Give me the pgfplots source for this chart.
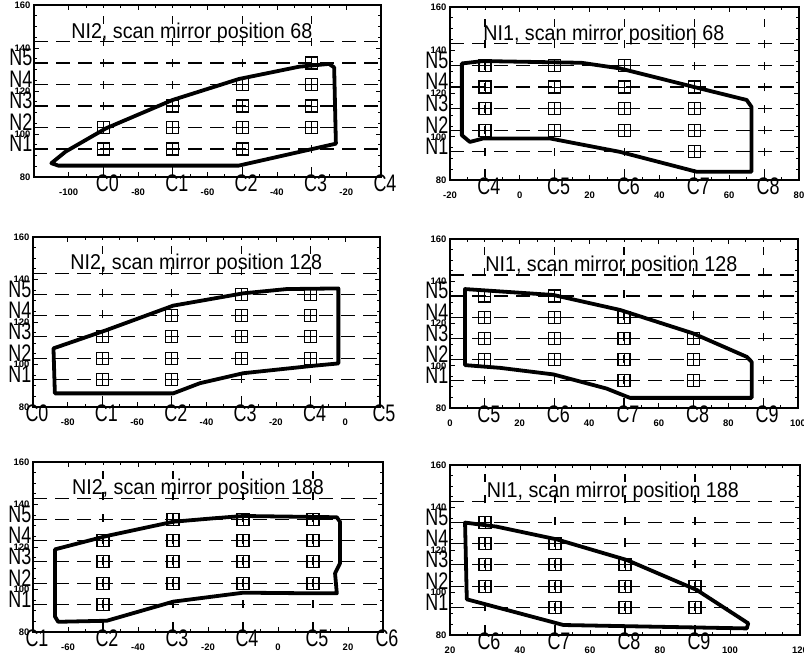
\documentclass[border=0pt]{standalone}
\usepackage{pgfplots}
\usepackage{pgfplotstable}
\pgfplotsset{compat=1.18}
\usepackage{fontspec}
\setmainfont{Liberation Sans}
\usepackage{graphicx}

\newcommand{\ttl}[1]{\scalebox{0.92}[1]{\fontsize{21.5}{24}\selectfont #1}}
\newcommand{\lab}[1]{\scalebox{0.75}[1]{\fontsize{24}{26}\selectfont #1}}
\newcommand{\Nlabs}[1]{%
  \node[nl] at (axis cs:#1,95.5) {\lab{N1}};
  \node[nl] at (axis cs:#1,105.5) {\lab{N2}};
  \node[nl] at (axis cs:#1,115.5) {\lab{N3}};
  \node[nl] at (axis cs:#1,125.5) {\lab{N4}};
  \node[nl] at (axis cs:#1,135.5) {\lab{N5}};}
\newcommand{\Clab}[2]{\node[cl] at (axis cs:#1,80) {\lab{#2}};}

\tikzset{
  nl/.style={anchor=east, inner sep=0pt, xshift=-1.5bp},
  cl/.style={anchor=north, inner sep=0pt, xshift=4bp, yshift=2bp},
}
\pgfplotsset{
  panel/.style={
    scale only axis, anchor=north west, clip=false,
    ymin=80, ymax=160, ytick={80,100,120,140,160},
    minor x tick num=3, minor y tick num=3,
    axis line style={line width=1.3bp},
    major tick length=5bp, minor tick length=3bp,
    every tick/.append style={line width=0.8bp, black},
    tick label style={font=\fontsize{9.5}{10}\selectfont\bfseries},
    /pgf/number format/assume math mode=true,
    xticklabel style={yshift=-8bp},
    extra y ticks={93,103,113,123,133,143},
    extra y tick labels={},
    extra y tick style={grid=major, major grid style={line width=1.2bp, dash pattern=on 14bp off 8bp, black}, major tick length=0pt},
    extra x tick labels={},
    extra x tick style={grid=major, major grid style={line width=1.2bp, dash pattern=on 8bp off 13.5bp, dash phase=19bp, black}, major tick length=0pt},
  },
  box/.style={only marks, mark=square, mark size=6bp, mark options={line width=1.2bp, solid, black}},
  crs/.style={only marks, mark=+, mark size=6bp, mark options={line width=0.8bp, solid, black}},
  outl/.style={black, line width=3.8bp, line join=round, mark=none},
}

\pgfplotstableread{
x y
-90 93
-90 103
-70 93
-70 103
-70 113
-50 93
-50 103
-50 113
-50 123
-30 103
-30 113
-30 123
-30 133
}\sqA
\pgfplotstableread{
x y
-10 103
-10 113
-10 123
-10 133
10 103
10 113
10 123
10 133
30 103
30 113
30 123
30 133
50 93
50 103
50 113
50 123
}\sqB
\pgfplotstableread{
x y
-70 93
-70 103
-70 113
-50 93
-50 103
-50 113
-50 123
-30 103
-30 113
-30 123
-30 133
-10 103
-10 113
-10 123
-10 133
}\sqC
\pgfplotstableread{
x y
10 103
10 113
10 123
10 133
30 103
30 113
30 123
30 133
50 93
50 103
50 113
50 123
70 93
70 103
70 113
}\sqD
\pgfplotstableread{
x y
-50 93
-50 103
-50 113
-50 123
-30 103
-30 113
-30 123
-30 133
-10 103
-10 113
-10 123
-10 133
10 103
10 113
10 123
10 133
}\sqE
\pgfplotstableread{
x y
30 103
30 113
30 123
30 133
50 93
50 103
50 113
50 123
70 93
70 103
70 113
90 93
90 103
}\sqF

\begin{document}
\begin{tikzpicture}
\useasboundingbox (0,0) rectangle (804bp,-660bp);

% ---------- Panel 1 ----------
\begin{axis}[panel, at={(34bp,-5bp)}, width=347bp, height=172bp,
  xmin=-110, xmax=-10, xtick={-100,-80,-60,-40,-20},
  extra x ticks={-90,-70,-50,-30,-10}]
\addplot[outl] coordinates {(-105,86.4) (-103,85.3) (-51,85.3) (-23,95.5) (-23.5,131) (-25,132.6) (-33.6,131.3) (-50.9,125.6) (-70.1,115.8) (-89.3,102.6) (-100.9,91.8)} --cycle;
\addplot[box] table {\sqA};
\addplot[crs] table {\sqA};
\node[anchor=base west, inner sep=0pt] at (axis cs:-99.3,144.6) {\ttl{NI2, scan mirror position 68}};
\Nlabs{-110}
\Clab{-90}{C0}\Clab{-70}{C1}\Clab{-50}{C2}\Clab{-30}{C3}\Clab{-10}{C4}
\end{axis}

% ---------- Panel 2 ----------
\begin{axis}[panel, at={(450bp,-7bp)}, width=349bp, height=173bp,
  xmin=-20, xmax=80, xtick={-20,0,20,40,60,80},
  extra x ticks={-10,10,30,50,70}]
\addplot[outl] coordinates {(-16.6,133.9) (-10.5,135) (17.7,134.2) (28.7,131.6) (49.7,123.1) (65,117) (66.4,113.8) (66.4,83.8) (50.7,83.8) (28.7,93) (8.7,99.2) (-10.5,99.2) (-14.3,97.6) (-16.6,100.7)} --cycle;
\addplot[box] table {\sqB};
\addplot[crs] table {\sqB};
\node[anchor=base west, inner sep=0pt] at (axis cs:-10.5,144.6) {\ttl{NI1, scan mirror position 68}};
\Nlabs{-20}
\Clab{-10}{C4}\Clab{10}{C5}\Clab{30}{C6}\Clab{50}{C7}\Clab{70}{C8}
\end{axis}

% ---------- Panel 3 ----------
\begin{axis}[panel, at={(33bp,-237bp)}, width=347bp, height=170bp,
  xmin=-90, xmax=10, xtick={-80,-60,-40,-20,0},
  extra x ticks={-90,-70,-50,-30,-10,10}]
\addplot[outl] coordinates {(-84.1,107.6) (-68.8,116.2) (-49.6,127.7) (-29.4,133.5) (-16.9,135.5) (-2,135.8) (-2,100.5) (-9.2,99.4) (-29.4,95.9) (-41.9,91.2) (-49.6,86.4) (-83.7,86.4)} --cycle;
\addplot[box] table {\sqC};
\addplot[crs] table {\sqC};
\node[anchor=base west, inner sep=0pt] at (axis cs:-79.3,144.6) {\ttl{NI2, scan mirror position 128}};
\Nlabs{-90}
\Clab{-90}{C0}\Clab{-70}{C1}\Clab{-50}{C2}\Clab{-30}{C3}\Clab{-10}{C4}\Clab{10}{C5}
\end{axis}

% ---------- Panel 4 ----------
\begin{axis}[panel, at={(450bp,-239bp)}, width=348bp, height=169bp,
  xmin=0, xmax=100, xtick={0,20,40,60,80,100},
  extra x ticks={10,30,50,70,90}]
\addplot[outl] coordinates {(4.3,136.3) (29.7,133.5) (48.9,126.4) (69.9,115.3) (85.3,104.2) (86.7,101.8) (86.7,84.8) (51.7,84.8) (45,89.2) (29.7,95.9) (14.4,99) (4.3,100.3)} --cycle;
\addplot[box] table {\sqD};
\addplot[crs] table {\sqD};
\node[anchor=base west, inner sep=0pt] at (axis cs:10.1,144.6) {\ttl{NI1, scan mirror position 128}};
\Nlabs{0}
\Clab{10}{C5}\Clab{30}{C6}\Clab{50}{C7}\Clab{70}{C8}\Clab{90}{C9}
\end{axis}

% ---------- Panel 5 ----------
\begin{axis}[panel, at={(33bp,-462bp)}, width=350bp, height=170bp,
  xmin=-70, xmax=30, xtick={-60,-40,-20,0,20},
  extra x ticks={-70,-50,-30,-10,10,30}]
\addplot[outl] coordinates {(-63.7,118.9) (-48.9,125.2) (-29.9,131.9) (-18.5,133.5) (-9.9,134.6) (16.8,134) (17.7,131.9) (17.7,112.3) (16.3,107.6) (16.8,98.2) (10.1,98.2) (-9.9,98.5) (-29.9,94.3) (-48.9,85.3) (-62.8,84.8) (-63.7,87.2)} --cycle;
\addplot[box] table {\sqE};
\addplot[crs] table {\sqE};
\node[anchor=base west, inner sep=0pt] at (axis cs:-58.9,144.6) {\ttl{NI2, scan mirror position 188}};
\Nlabs{-70}
\Clab{-70}{C1}\Clab{-50}{C2}\Clab{-30}{C3}\Clab{-10}{C4}\Clab{10}{C5}\Clab{30}{C6}
\end{axis}

% ---------- Panel 6 ----------
\begin{axis}[panel, at={(450bp,-465bp)}, width=350bp, height=170bp,
  xmin=20, xmax=120, xtick={20,40,60,80,100,120},
  extra x ticks={30,50,70,90}]
\addplot[outl] coordinates {(24.3,132.9) (33.3,131) (50.5,125) (70.5,115.3) (90.5,101.2) (105.2,85.5) (104.8,83.1) (52.4,84.7) (24.8,96.8)} --cycle;
\addplot[box] table {\sqF};
\addplot[crs] table {\sqF};
\node[anchor=base west, inner sep=0pt] at (axis cs:30.5,144.6) {\ttl{NI1, scan mirror position 188}};
\Nlabs{20}
\Clab{30}{C6}\Clab{50}{C7}\Clab{70}{C8}\Clab{90}{C9}
\end{axis}
\end{tikzpicture}
\end{document}
